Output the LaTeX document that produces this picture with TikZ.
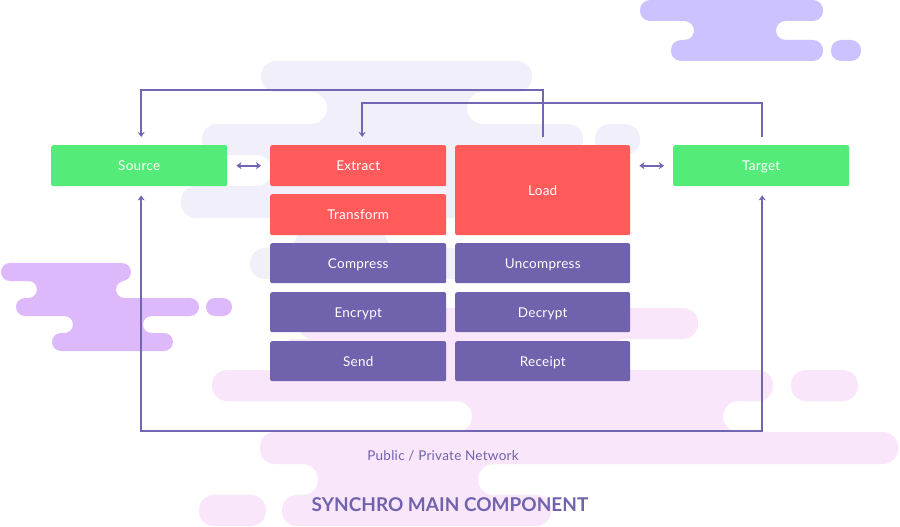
\documentclass[tikz,border=0pt]{standalone}
\usepackage{fontspec}
\setmainfont{Lato}[LetterSpace=2]
\usetikzlibrary{arrows.meta}
\definecolor{cgreen}{HTML}{55EB78}
\definecolor{cred}{HTML}{FF5B5B}
\definecolor{cpurple}{HTML}{7062AC}
\definecolor{cline}{HTML}{7266B3}
\definecolor{clav}{HTML}{F1EFFA}
\definecolor{ctop}{HTML}{CBC2FF}
\definecolor{cleft}{HTML}{DDB8FA}
\definecolor{cpink}{HTML}{F9E6FA}
\newcommand\pill[6]{\fill[#1,rounded corners=#6pt] (#2,#3) rectangle (#4,#5);}
% color, a, b, y1, y2, r
\newcommand\neck[6]{\fill[#1] ({#2-#6},#4) arc[start angle=-90,end angle=90,radius=#6] -- ({#3+#6},#5) arc[start angle=90,end angle=270,radius=#6] -- cycle;}
\tikzset{
  box/.style={rounded corners=2pt, minimum height=41pt, minimum width=176pt, inner sep=0pt, anchor=north west, text=white, font=\fontsize{13.5}{15}\selectfont, text height=9.7pt, text depth=0pt},
  greenbox/.style={box, fill=cgreen},
  redbox/.style={box, fill=cred},
  purplebox/.style={box, fill=cpurple, minimum height=40pt},
  conn/.style={draw=cline, line width=1.6pt},
  tip/.style={-{Stealth[length=5pt,width=7pt,inset=1.5pt]}},
  dbl/.style={{Stealth[length=5pt,width=7pt,inset=1.5pt]}-{Stealth[length=5pt,width=7pt,inset=1.5pt]}},
}
\begin{document}
\begin{tikzpicture}[x=1pt,y=-1pt]
\useasboundingbox (0,0) rectangle (900,527);
\fill[white] (0,0) rectangle (900,527);
% top-right cloud
\pill{ctop}{640}{0}{823}{21}{10}
\neck{ctop}{694}{776}{21}{40}{9.5}
\pill{ctop}{671}{40}{823}{61}{10}
\pill{ctop}{831}{40}{861}{61}{10}
% lavender cloud
\pill{clav}{261}{61}{532}{92}{15}
\neck{clav}{327}{467}{92}{124}{16}
\pill{clav}{202}{124}{583}{155}{15}
\pill{clav}{595}{124}{640}{155}{15}
\neck{clav}{272}{560}{155}{186}{15.5}
\pill{clav}{181}{186}{615}{218}{15}
\neck{clav}{297}{385}{218}{248}{15}
\pill{clav}{250}{248}{470}{279}{15}
% left purple cloud
\pill{cleft}{1}{263}{131}{281}{9}
\neck{cleft}{37}{116}{281}{298}{8.5}
\pill{cleft}{16}{298}{199}{316}{9}
\pill{cleft}{206}{298}{232}{316}{9}
\neck{cleft}{73}{143}{316}{333}{8.5}
\pill{cleft}{52}{333}{173}{351}{9}
% pink cloud
\pill{cpink}{298}{308}{698}{339}{15}
\neck{cpink}{300}{610}{339}{370}{15.5}
\pill{cpink}{212}{370}{773}{401}{15}
\pill{cpink}{791}{370}{858}{401}{15}
\neck{cpink}{472}{723}{401}{432}{15.5}
\pill{cpink}{260}{432}{898}{464}{15}
\neck{cpink}{318}{478}{464}{495}{15.5}
\pill{cpink}{282}{495}{551}{526}{15}
\pill{cpink}{199}{495}{266}{526}{15}
% boxes
\node[greenbox] (src) at (51,145) {Source};
\node[redbox] (ext) at (270,145) {Extract};
\node[redbox] (tra) at (270,194) {Transform};
\node[redbox, minimum width=175pt, minimum height=90pt] (load) at (455,145) {Load};
\node[greenbox] (tgt) at (673,145) {Target};
\node[purplebox] (cmp) at (270,243) {Compress};
\node[purplebox, minimum width=175pt] (ucmp) at (455,243) {Uncompress};
\node[purplebox] (enc) at (270,292) {Encrypt};
\node[purplebox, minimum width=175pt] (dec) at (455,292) {Decrypt};
\node[purplebox] (snd) at (270,341) {Send};
\node[purplebox, minimum width=175pt] (rcp) at (455,341) {Receipt};
% connectors
\draw[conn,tip] ([yshift=8pt]load.north) -- ++(0,-47) -| ([xshift=2pt,yshift=8pt]src.north);
\draw[conn,tip] ([xshift=1pt,yshift=8pt]tgt.north) -- ++(0,-34) -| ([xshift=4pt,yshift=8pt]ext.north);
\coordinate (net) at (450,431);
\draw[conn,dbl] ([xshift=2pt,yshift=-9pt]src.south) |- (net) -| ([xshift=1pt,yshift=-9pt]tgt.south);
\draw[conn,dbl] ([xshift=9pt]src.east) -- ([xshift=-9pt]ext.west);
\path (load.east |- tgt.west) coordinate (le);
\draw[conn,dbl] ([xshift=9pt]le) -- ([xshift=-9pt]tgt.west);
% labels
\node[text=cpurple, font=\fontsize{13.5}{15}\selectfont] (netlbl) at (443,456) {Public / Private Network};
\node[text=cpurple, font=\fontsize{19}{22}\selectfont\bfseries\addfontfeatures{LetterSpace=0}] (title) at (450,505) {SYNCHRO MAIN COMPONENT};
\end{tikzpicture}
\end{document}
